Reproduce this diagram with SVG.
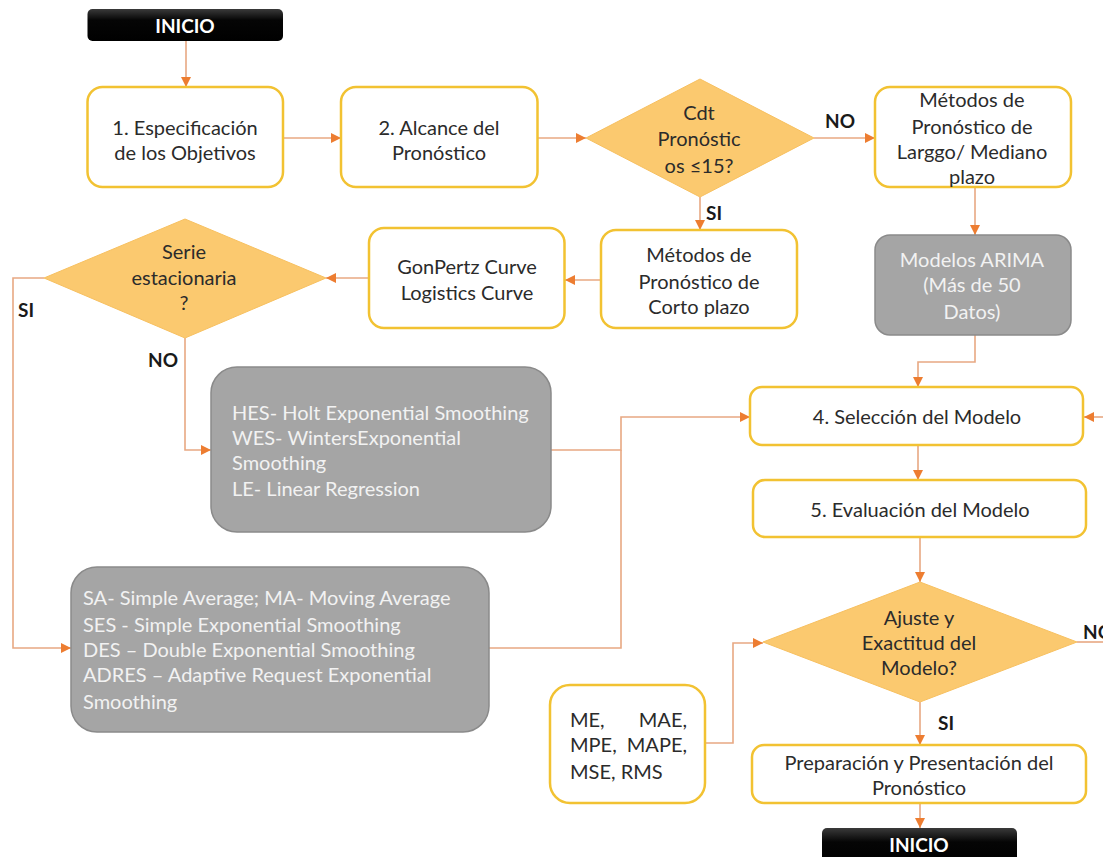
<svg xmlns="http://www.w3.org/2000/svg" width="1103" height="857" viewBox="0 0 1103 857">
<style>
.box{fill:#fff;stroke:#F2C232;stroke-width:2.5}
.gbox{fill:#A5A5A5;stroke:#8A8A8A;stroke-width:1.5}
.dia{fill:#FBC96F;stroke:#F7C060;stroke-width:1}
.term{fill:url(#tg)}
.t{font-family:Lato,"Liberation Sans",sans-serif;font-size:20px;fill:#2b2b2b;text-anchor:middle}
.gt{font-family:Lato,"Liberation Sans",sans-serif;font-size:20px;fill:#F2F2F2}
.gc{text-anchor:middle}
.lbl{font-family:Lato,"Liberation Sans",sans-serif;font-size:19px;font-weight:bold;fill:#1a1a1a}
.tt{font-family:Lato,"Liberation Sans",sans-serif;font-size:19px;font-weight:bold;fill:#fff;text-anchor:middle}
.conn{fill:none;stroke:#E8A882;stroke-width:1.6}
</style>
<defs>
<linearGradient id="tg" x1="0" y1="0" x2="0" y2="1">
<stop offset="0" stop-color="#3a3a3a"/>
<stop offset="0.35" stop-color="#050505"/>
<stop offset="1" stop-color="#000"/>
</linearGradient>
<marker id="ah" viewBox="0 0 10 10" refX="10" refY="5" markerWidth="10" markerHeight="10" markerUnits="userSpaceOnUse" orient="auto">
<path d="M0,0 L10,5 L0,10 z" fill="#ED7D31"/>
</marker>
</defs>

<g id="connectors">
<path class="conn" d="M186 41 V87" marker-end="url(#ah)"/>
<path class="conn" d="M283 138 H341" marker-end="url(#ah)"/>
<path class="conn" d="M537.5 138 H586" marker-end="url(#ah)"/>
<path class="conn" d="M814 138 H875" marker-end="url(#ah)"/>
<path class="conn" d="M700 197 V230" marker-end="url(#ah)"/>
<path class="conn" d="M975 187 V235" marker-end="url(#ah)"/>
<path class="conn" d="M601 280 H565" marker-end="url(#ah)"/>
<path class="conn" d="M369 278 H326" marker-end="url(#ah)"/>
<path class="conn" d="M44 278 H13 V648 H71" marker-end="url(#ah)"/>
<path class="conn" d="M185 338 V450 H211" marker-end="url(#ah)"/>
<path class="conn" d="M551 450 H621 V417 H750" marker-end="url(#ah)"/>
<path class="conn" d="M489 648 H621 V450"/>
<path class="conn" d="M975 335 V362 H918 V387" marker-end="url(#ah)"/>
<path class="conn" d="M1103 417 H1084" marker-end="url(#ah)"/>
<path class="conn" d="M918 445 V480" marker-end="url(#ah)"/>
<path class="conn" d="M920 537 V582" marker-end="url(#ah)"/>
<path class="conn" d="M1077 642 H1103"/>
<path class="conn" d="M920 702 V745" marker-end="url(#ah)"/>
<path class="conn" d="M705 743 H733 V643 H763" marker-end="url(#ah)"/>
<path class="conn" d="M920 803 V828" marker-end="url(#ah)"/>
</g>

<g id="inicio-top">
<rect class="term" x="87.5" y="9" width="195.5" height="32" rx="5"/>
<text class="tt" x="185" y="33">INICIO</text>
</g>

<g id="especificacion">
<rect class="box" x="87.5" y="87" width="195.5" height="100" rx="15"/>
<text class="t" x="185" y="135">1. Especificación</text>
<text class="t" x="185" y="160">de los Objetivos</text>
</g>

<g id="alcance">
<rect class="box" x="341" y="87" width="196.5" height="100" rx="15"/>
<text class="t" x="439" y="135">2. Alcance del</text>
<text class="t" x="439" y="160">Pronóstico</text>
</g>

<g id="cdt">
<polygon class="dia" points="700,79 814,138 700,197 586,138"/>
<text class="t" x="699" y="120">Cdt</text>
<text class="t" x="699" y="146">Pronóstic</text>
<text class="t" x="699" y="173">os ≤15?</text>
</g>

<g id="largo">
<rect class="box" x="875" y="87" width="196" height="100" rx="15"/>
<text class="t" x="972" y="107">Métodos de</text>
<text class="t" x="972" y="134">Pronóstico de</text>
<text class="t" x="972" y="159">Larggo/ Mediano</text>
<text class="t" x="972" y="184">plazo</text>
</g>

<g id="arima">
<rect class="gbox" x="875" y="235" width="196" height="100" rx="15"/>
<text class="gt gc" x="972" y="267">Modelos ARIMA</text>
<text class="gt gc" x="972" y="292">(Más de 50</text>
<text class="gt gc" x="972" y="319">Datos)</text>
</g>

<g id="corto">
<rect class="box" x="601" y="230" width="196" height="98" rx="15"/>
<text class="t" x="699" y="262">Métodos de</text>
<text class="t" x="699" y="289">Pronóstico de</text>
<text class="t" x="699" y="314">Corto plazo</text>
</g>

<g id="gonpertz">
<rect class="box" x="369" y="228" width="195.5" height="100" rx="15"/>
<text class="t" x="467" y="274">GonPertz Curve</text>
<text class="t" x="467" y="300">Logistics Curve</text>
</g>

<g id="serie">
<polygon class="dia" points="185,219 326,278 185,338 44,278"/>
<text class="t" x="184" y="259">Serie</text>
<text class="t" x="184" y="285">estacionaria</text>
<text class="t" x="184" y="310">?</text>
</g>

<g id="hes">
<rect class="gbox" x="211" y="367" width="340" height="165" rx="26"/>
<text class="gt" x="232" y="420">HES- Holt Exponential Smoothing</text>
<text class="gt" x="232" y="445">WES- WintersExponential</text>
<text class="gt" x="232" y="470">Smoothing</text>
<text class="gt" x="232" y="496">LE- Linear Regression</text>
</g>

<g id="sa">
<rect class="gbox" x="71" y="567" width="418" height="165" rx="26"/>
<text class="gt" x="83" y="605">SA- Simple Average; MA- Moving Average</text>
<text class="gt" x="83" y="632">SES - Simple Exponential Smoothing</text>
<text class="gt" x="83" y="657">DES – Double Exponential Smoothing</text>
<text class="gt" x="83" y="682">ADRES – Adaptive Request Exponential</text>
<text class="gt" x="83" y="709">Smoothing</text>
</g>

<g id="seleccion">
<rect class="box" x="750" y="387" width="333" height="58" rx="12"/>
<text class="t" x="917" y="424">4. Selección del Modelo</text>
</g>

<g id="evaluacion">
<rect class="box" x="753" y="480" width="333" height="57" rx="12"/>
<text class="t" x="920" y="517">5. Evaluación del Modelo</text>
</g>

<g id="ajuste">
<polygon class="dia" points="920,582 1077,642 920,702 763,642"/>
<text class="t" x="919" y="625">Ajuste y</text>
<text class="t" x="919" y="650">Exactitud del</text>
<text class="t" x="919" y="675">Modelo?</text>
</g>

<g id="metricas">
<rect class="box" x="550" y="685" width="155" height="118" rx="20"/>
<text class="t" x="570" y="727" style="text-anchor:start">ME,</text>
<text class="t" x="687" y="727" style="text-anchor:end">MAE,</text>
<text class="t" x="570" y="752" style="text-anchor:start">MPE,</text>
<text class="t" x="687" y="752" style="text-anchor:end">MAPE,</text>
<text class="t" x="570" y="779" style="text-anchor:start">MSE, RMS</text>
</g>

<g id="preparacion">
<rect class="box" x="752" y="745" width="334" height="58" rx="12"/>
<text class="t" x="919" y="770">Preparación y Presentación del</text>
<text class="t" x="919" y="795">Pronóstico</text>
</g>

<g id="inicio-bottom">
<rect class="term" x="822" y="828" width="195" height="40" rx="5"/>
<text class="tt" x="919" y="852">INICIO</text>
</g>

<g id="labels">
<text class="lbl" x="840" y="128" text-anchor="middle">NO</text>
<text class="lbl" x="714" y="220" text-anchor="middle">SI</text>
<text class="lbl" x="26" y="317" text-anchor="middle">SI</text>
<text class="lbl" x="163" y="367" text-anchor="middle">NO</text>
<text class="lbl" x="946" y="730" text-anchor="middle">SI</text>
<text class="lbl" x="1083" y="639">NO</text>
</g>
</svg>
